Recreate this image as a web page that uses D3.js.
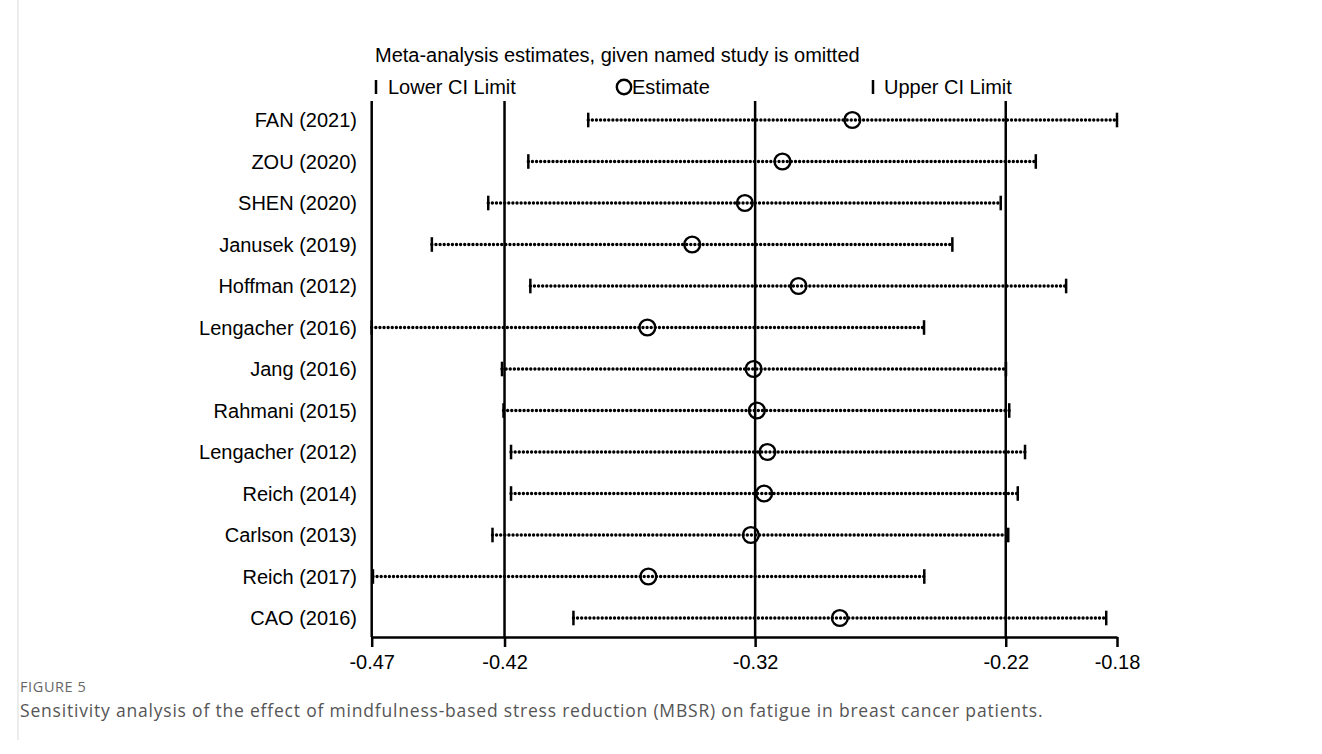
<!DOCTYPE html>
<html>
<head>
<meta charset="utf-8">
<script src="https://cdn.jsdelivr.net/npm/d3@7"></script>
<style>
  html, body { margin: 0; padding: 0; background: #fff; }
  svg { display: block; }
</style>
</head>
<body>
<svg id="chart" width="1322" height="754"></svg>
<script>
// ---------------- data ----------------
const studies = ["FAN (2021)", "ZOU (2020)", "SHEN (2020)", "Janusek (2019)", "Hoffman (2012)",
  "Lengacher (2016)", "Jang (2016)", "Rahmani (2015)", "Lengacher (2012)", "Reich (2014)",
  "Carlson (2013)", "Reich (2017)", "CAO (2016)"];
const lowerCI  = [-0.3866, -0.4105, -0.4265, -0.4490, -0.4097, -0.4730, -0.4210, -0.4204, -0.4174, -0.4174, -0.4248, -0.4725, -0.3925];
const estimate = [-0.2812, -0.3091, -0.3241, -0.3451, -0.3027, -0.3630, -0.3206, -0.3193, -0.3151, -0.3164, -0.3217, -0.3626, -0.2862];
const upperCI  = [-0.1756, -0.2080, -0.2220, -0.2413, -0.1959, -0.2526, -0.2199, -0.2186, -0.2123, -0.2152, -0.2190, -0.2525, -0.1799];
const combined = [-0.4200, -0.3200, -0.2200]; // pooled lower CI, estimate, upper CI
const tickValues = [-0.4730, -0.4200, -0.3200, -0.2200, -0.1756];
const tickLabels = ["-0.47", "-0.42", "-0.32", "-0.22", "-0.18"];
const titleText = "Meta-analysis estimates, given named study is omitted";
const legendLabels = ["Lower CI Limit", "Estimate", "Upper CI Limit"];
const figLabel = "FIGURE 5";
const captionText = "Sensitivity analysis of the effect of mindfulness-based stress reduction (MBSR) on fatigue in breast cancer patients.";

// ---------------- layout ----------------
const svg = d3.select("#chart");
const FONT = "'Liberation Sans', Arial, Helvetica, sans-serif";
const x = d3.scaleLinear().domain([tickValues[0], tickValues[tickValues.length - 1]]).range([371.7, 1117]);
const y = d3.scalePoint().domain(studies).range([120, 618]);
const plotTop = 101, axisY = 637;

// page border line on the left
svg.append("line").attr("x1", 18).attr("x2", 18).attr("y1", 0).attr("y2", 740)
  .attr("stroke", "#d9d9d9").attr("stroke-width", 1);

// vertical reference lines (axis min + pooled values)
const refVals = [tickValues[0]].concat(combined);
svg.selectAll("line.ref").data(refVals).enter().append("line")
  .attr("class", "ref")
  .attr("x1", d => x(d)).attr("x2", d => x(d))
  .attr("y1", plotTop).attr("y2", axisY)
  .attr("stroke", "#000").attr("stroke-width", 2.5);

// axis
const axis = d3.axisBottom(x).tickValues(tickValues).tickFormat((d, i) => tickLabels[i])
  .tickSize(10).tickSizeOuter(0);
const gAxis = svg.append("g").attr("transform", `translate(0,${axisY})`).call(axis);
gAxis.select(".domain").attr("stroke", "#000").attr("stroke-width", 2.5);
gAxis.selectAll(".tick line").attr("stroke", "#000").attr("stroke-width", 2.5);
gAxis.selectAll(".tick text").attr("font-family", FONT).attr("font-size", 20)
  .attr("fill", "#000").attr("dy", "0.95em");

// rows
const rows = studies.map((s, i) => ({ s, lo: lowerCI[i], est: estimate[i], hi: upperCI[i] }));
const g = svg.append("g");
g.selectAll("line.ci").data(rows).enter().append("line")
  .attr("x1", d => x(d.lo)).attr("x2", d => x(d.hi))
  .attr("y1", d => y(d.s)).attr("y2", d => y(d.s))
  .attr("stroke", "#000").attr("stroke-width", 3.4)
  .attr("stroke-linecap", "round").attr("stroke-dasharray", "0.01 4.1");
["lo", "hi"].forEach(k => {
  g.selectAll("line.end" + k).data(rows).enter().append("line")
    .attr("x1", d => x(d[k])).attr("x2", d => x(d[k]))
    .attr("y1", d => y(d.s) - 7.3).attr("y2", d => y(d.s) + 7.3)
    .attr("stroke", "#000").attr("stroke-width", 2.5);
});
g.selectAll("circle.est").data(rows).enter().append("circle")
  .attr("cx", d => x(d.est)).attr("cy", d => y(d.s)).attr("r", 7.9)
  .attr("fill", "none").attr("stroke", "#000").attr("stroke-width", 2.4);

// row labels
g.selectAll("text.lab").data(rows).enter().append("text")
  .attr("x", 357).attr("y", d => y(d.s)).attr("dy", "0.35em")
  .attr("text-anchor", "end").attr("font-family", FONT).attr("font-size", 20)
  .attr("fill", "#000").text(d => d.s);

// title
svg.append("text").attr("x", 375).attr("y", 62).attr("font-family", FONT).attr("font-size", 20)
  .attr("fill", "#000").text(titleText);

// legend
const legY = 87;
const leg = svg.append("g").attr("font-family", FONT).attr("font-size", 20);
[[376, 388, "bar"], [624, 632, "circle"], [873, 884, "bar"]].forEach((p, i) => {
  if (p[2] === "bar") {
    leg.append("line").attr("x1", p[0]).attr("x2", p[0]).attr("y1", legY - 7).attr("y2", legY + 7)
      .attr("stroke", "#000").attr("stroke-width", 2.5);
  } else {
    leg.append("circle").attr("cx", p[0]).attr("cy", legY).attr("r", 7.2)
      .attr("fill", "none").attr("stroke", "#000").attr("stroke-width", 2.4);
  }
  leg.append("text").attr("x", p[1]).attr("y", legY).attr("dy", "0.35em").text(legendLabels[i]);
});

// caption
svg.append("text").attr("x", 20).attr("y", 692).attr("font-family", "'Open Sans', sans-serif")
  .attr("font-size", 14.5).attr("fill", "#666").attr("letter-spacing", 0.6).text(figLabel);
svg.append("text").attr("x", 20).attr("y", 717).attr("font-family", "'Open Sans', sans-serif")
  .attr("font-size", 17.5).attr("fill", "#555").attr("letter-spacing", 0.8).text(captionText);
</script>
</body>
</html>
